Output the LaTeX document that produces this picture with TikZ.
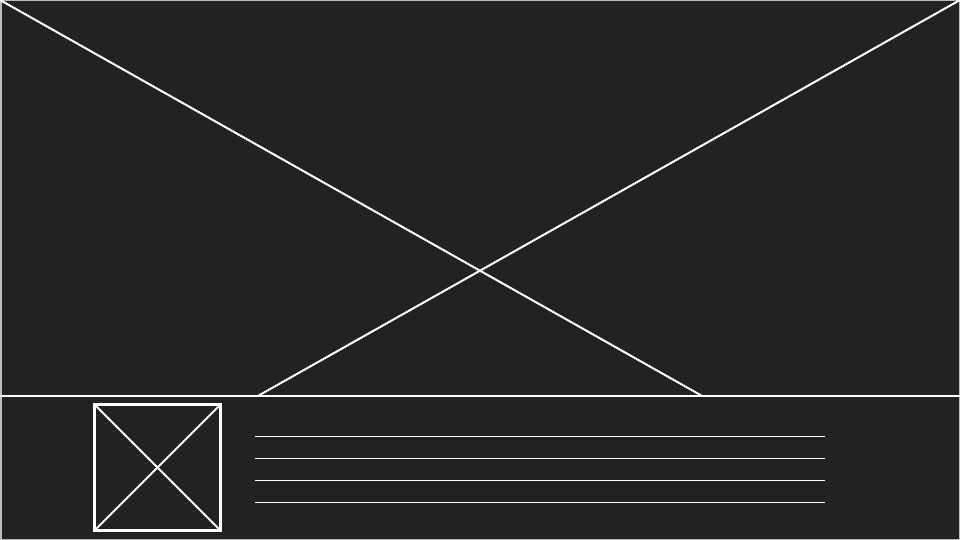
\documentclass[tikz,border=0pt]{standalone}
\definecolor{bg}{HTML}{222222}
\definecolor{edge}{HTML}{BBBBBB}
\tikzset{wire/.style={draw=white,line width=2pt}}
\begin{document}
\begin{tikzpicture}[x=1pt,y=-1pt]
\useasboundingbox (0,0) rectangle (960,540);
\fill[bg] (0,0) rectangle (960,540);
\draw[edge,line width=1.5pt] (0.75,0.75) rectangle (959.25,539.25);
% big placeholder cross
\coordinate (tl) at (0,0);
\coordinate (tr) at (960,0);
\coordinate (dl) at (0,395.5);
\coordinate (dr) at (960,395.5);
\coordinate (bl) at (258.7,395.5);
\coordinate (br) at (701.3,395.5);
\draw[wire] (tl) -- (br);
\draw[wire] (tr) -- (bl);
\draw[wire] (dl) -- (dr);
% thumbnail
\draw[wire,line width=2.3pt] (94.5,404.5) rectangle (220.5,530.5);
\draw[wire] (94.5,404.5) -- (220.5,530.5);
\draw[wire] (220.5,404.5) -- (94.5,530.5);
% text lines
\foreach \y in {436.5,458.5,480.5,502.5}
  \draw[wire,line width=1.6pt] (255,\y) -- (825,\y);
\end{tikzpicture}
\end{document}
